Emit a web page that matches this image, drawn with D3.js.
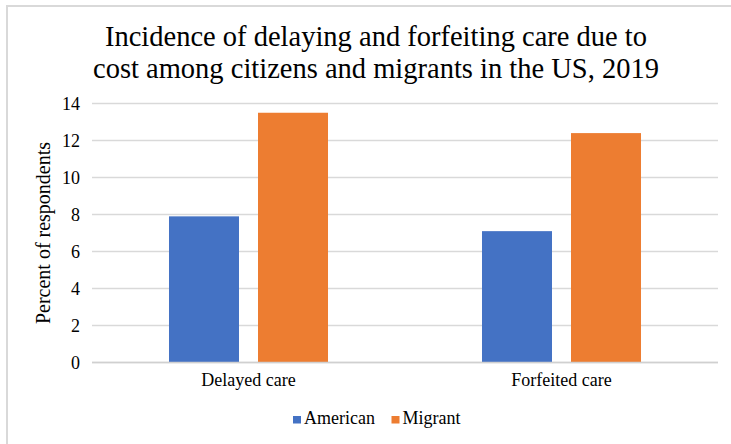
<!DOCTYPE html>
<html>
<head>
<meta charset="utf-8">
<script src="https://cdn.jsdelivr.net/npm/d3@7"></script>
<style>
  html, body { margin: 0; padding: 0; background: #fff; }
  svg { display: block; font-family: "Liberation Serif", "Times New Roman", serif; }
</style>
</head>
<body>
<svg id="chart" width="731" height="444"></svg>
<script>
// Survey results: share of respondents who delayed or forfeited care due to cost
const categories = ["Delayed care", "Forfeited care"];
const seriesNames = ["American", "Migrant"];
const americanValues = [7.9, 7.1];
const migrantValues = [13.5, 12.4];
const yTicks = [0, 2, 4, 6, 8, 10, 12, 14];
const titleLines = [
  "Incidence of delaying and forfeiting care due to",
  "cost among citizens and migrants in the US, 2019"
];
const yAxisTitle = "Percent of respondents";
const colors = { American: "#4472C4", Migrant: "#ED7D31" };
const serif = "'Liberation Serif', 'Times New Roman', serif";

const seriesValues = { American: americanValues, Migrant: migrantValues };
const rows = categories.map((c, i) => ({
  category: c,
  values: seriesNames.map(s => ({ series: s, value: seriesValues[s][i] }))
}));

const svg = d3.select("#chart");
const plot = { left: 92, right: 718, top: 103.5, bottom: 362.5 };

// Outer frame
svg.append("path")
  .attr("d", `M7,444 V6 H731`)
  .attr("fill", "none")
  .attr("stroke", "#d9d9d9")
  .attr("stroke-width", 2);

// Title
svg.append("g")
  .selectAll("text")
  .data(titleLines)
  .join("text")
  .attr("x", 376)
  .attr("y", (d, i) => 46 + i * 31.5)
  .attr("text-anchor", "middle")
  .style("font-family", serif)
  .attr("font-size", 28.5)
  .attr("fill", "#000")
  .text(d => d);

// Scales
const y = d3.scaleLinear().domain([0, 14]).range([plot.bottom, plot.top]);
const x0 = d3.scaleBand()
  .domain(categories)
  .range([plot.left, plot.right])
  .paddingInner(0.492)
  .paddingOuter(0.246);
const x1 = d3.scaleBand()
  .domain(seriesNames)
  .range([0, x0.bandwidth()])
  .paddingInner(0.2135);

// Gridlines
svg.append("g")
  .selectAll("line")
  .data(yTicks)
  .join("line")
  .attr("x1", plot.left)
  .attr("x2", plot.right)
  .attr("y1", d => y(d))
  .attr("y2", d => y(d))
  .attr("stroke", "#d9d9d9")
  .attr("stroke-width", 1.5);

// Y axis labels
const yAxis = d3.axisLeft(y).tickValues(yTicks).tickSize(0).tickPadding(0).tickFormat(d3.format("d"));
const yAxisG = svg.append("g")
  .attr("transform", `translate(${plot.left - 12},0)`)
  .call(yAxis);
yAxisG.select(".domain").remove();
yAxisG.selectAll("text")
  .style("font-family", serif)
  .attr("font-size", 18)
  .attr("fill", "#000");

// Bars
const groups = svg.append("g")
  .selectAll("g")
  .data(rows)
  .join("g")
  .attr("transform", d => `translate(${x0(d.category)},0)`);
groups.selectAll("rect")
  .data(d => d.values)
  .join("rect")
  .attr("x", d => x1(d.series))
  .attr("width", x1.bandwidth())
  .attr("y", d => y(d.value))
  .attr("height", d => y(0) - y(d.value))
  .attr("fill", d => colors[d.series]);

// Zero baseline
svg.append("line")
  .attr("x1", plot.left).attr("x2", plot.right)
  .attr("y1", y(0)).attr("y2", y(0))
  .attr("stroke", "#d0d0d0")
  .attr("stroke-width", 1.5);

// X axis labels
const xAxis = d3.axisBottom(x0).tickSize(0).tickPadding(0);
const xAxisG = svg.append("g")
  .attr("transform", `translate(0,${plot.bottom + 11})`)
  .call(xAxis);
xAxisG.select(".domain").remove();
xAxisG.selectAll("text")
  .style("font-family", serif)
  .attr("font-size", 18)
  .attr("fill", "#000");

// Y axis title
svg.append("text")
  .attr("transform", `translate(50,${(plot.top + plot.bottom) / 2}) rotate(-90)`)
  .attr("text-anchor", "middle")
  .style("font-family", serif)
  .attr("font-size", 20)
  .attr("fill", "#000")
  .text(yAxisTitle);

// Legend
const legendX = [293, 391.5];
const legend = svg.append("g")
  .selectAll("g")
  .data(seriesNames)
  .join("g")
  .attr("transform", (d, i) => `translate(${legendX[i]},416)`);
legend.append("rect")
  .attr("width", 8).attr("height", 7.5)
  .attr("fill", d => colors[d]);
legend.append("text")
  .attr("x", 11)
  .attr("y", 8)
  .style("font-family", serif)
  .attr("font-size", 18)
  .attr("fill", "#000")
  .text(d => d);
</script>
</body>
</html>
